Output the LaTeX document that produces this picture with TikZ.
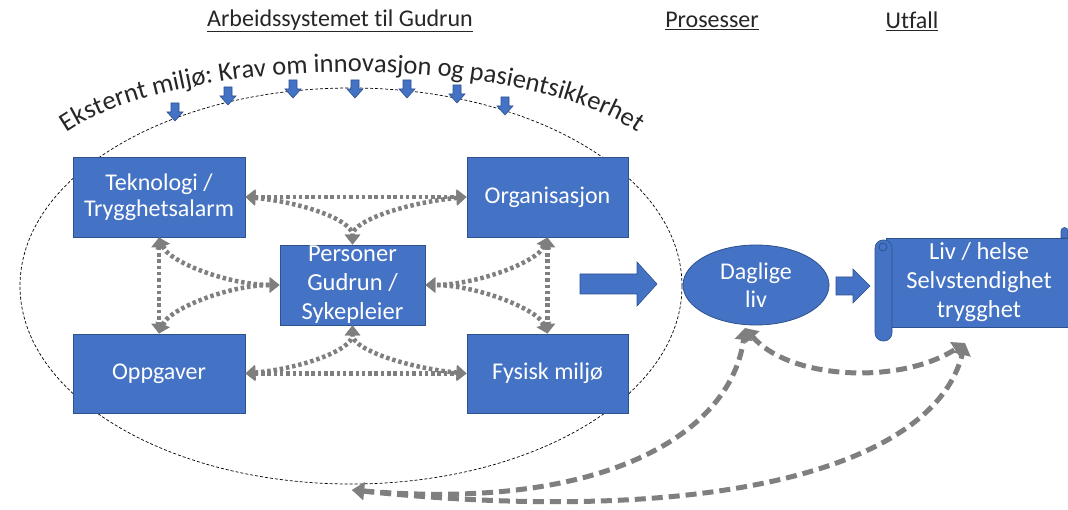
\documentclass[tikz,border=0pt]{standalone}
\usepackage{fontspec}
\setmainfont{Carlito}[Ligatures=NoCommon]
\usetikzlibrary{arrows.meta,decorations.text,shapes.geometric}
\definecolor{boxblue}{HTML}{4472C4}
\definecolor{boxedge}{HTML}{2F528F}
\definecolor{arrgray}{HTML}{7F7F7F}
\definecolor{txtdark}{HTML}{262626}
\begin{document}
\begin{tikzpicture}[x=1pt,y=-1pt,
  box/.style={fill=boxblue, draw=boxedge, line width=0.8pt, text=white, font=\fontsize{24}{26}\selectfont, align=center, inner sep=0pt},
  boxtxt/.style={text=white, font=\fontsize{24.5}{29}\selectfont, align=center, inner sep=0pt},
  header/.style={text=txtdark, font=\fontsize{24}{28}\selectfont, inner sep=0pt},
  dotarrow/.style={draw=arrgray, line width=4.5pt, dash pattern=on 3.5pt off 2.8pt,
     {Triangle[width=15pt,length=10pt]}-{Triangle[width=15pt,length=10pt]}},
  dasharrow/.style={draw=arrgray, line width=5pt, dash pattern=on 11pt off 6pt,
     {Triangle[width=17pt,length=12pt]}-{Triangle[width=17pt,length=12pt]}},
  bluearrow/.style={fill=boxblue, draw=boxedge, line width=0.6pt},
]
\useasboundingbox (0,0) rectangle (1068,510);
\fill[white] (0,0) rectangle (1068,510);

% headers
\node[header] (h1) at (340,21) {\underline{Arbeidssystemet til Gudrun}};
\node[header] (h2) at (712,21) {\underline{Prosesser}};
\node[header] (h3) at (912,21) {\underline{Utfall}};

% external environment ellipse
\draw[black, line width=0.7pt, dash pattern=on 3pt off 2pt] (351,286) ellipse [x radius=331pt, y radius=198pt];

% text along arc
\path[decorate, decoration={text along path, text align=center,
   text={|\fontsize{26.5}{27}\selectfont\color{txtdark}|Eksternt miljø: Krav om innovasjon og pasientsikkerhet}}]
  ([shift={(162:318pt and 108pt)}]352,180) arc[start angle=162, end angle=18, x radius=318pt, y radius=108pt];

% small down arrows
\foreach \ax/\ay in {175/103, 228/87, 293/80, 355/80, 407/80, 457/85, 505/97}{
  \draw[bluearrow] (\ax-4,\ay) -- (\ax+4,\ay) -- (\ax+4,\ay+9) -- (\ax+8,\ay+9) -- (\ax,\ay+18)
     -- (\ax-8,\ay+9) -- (\ax-4,\ay+9) -- cycle;
}

% boxes
\node[box, minimum width=172pt, minimum height=80pt] (tek) at (159,197) {Teknologi /\\Trygghetsalarm};
\node[box, minimum width=161pt, minimum height=80pt] (org) at (547.5,197) {Organisasjon};
\node[box, minimum width=145pt, minimum height=80pt] (pers) at (352.5,285) {};
\node[boxtxt] (perstxt) at (352.5,285) {Personer\\Gudrun /\\Sykepleier};
\node[box, minimum width=172pt, minimum height=79pt] (opp) at (159,373.5) {Oppgaver};
\node[box, minimum width=161pt, minimum height=79pt] (fys) at (547.5,373.5) {Fysisk miljø};

% dotted double arrows
\draw[dotarrow] (tek.east) -- (org.west);
\draw[dotarrow] (opp.east) -- (fys.west);
\draw[dotarrow] (tek.south) -- (opp.north);
\draw[dotarrow] (org.south) -- (fys.north);
\draw[dotarrow] (tek.east) .. controls +(55,5) and +(0,-25) .. (pers.north);
\draw[dotarrow] (org.west) .. controls +(-55,5) and +(0,-25) .. (pers.north);
\draw[dotarrow] (opp.east) .. controls +(55,-5) and +(0,25) .. (pers.south);
\draw[dotarrow] (fys.west) .. controls +(-55,-5) and +(0,25) .. (pers.south);
\draw[dotarrow] (tek.south) .. controls +(10,25) and +(-50,0) .. (pers.west);
\draw[dotarrow] (opp.north) .. controls +(10,-25) and +(-50,0) .. (pers.west);
\draw[dotarrow] (org.south) .. controls +(-10,25) and +(50,0) .. (pers.east);
\draw[dotarrow] (fys.north) .. controls +(-10,-25) and +(50,0) .. (pers.east);

% big arrow to processes
\draw[bluearrow] (580,274) -- (637,274) -- (637,262) -- (657,284) -- (637,306) -- (637,294) -- (580,294) -- cycle;

% Daglige liv
\node[ellipse, fill=boxblue, draw=boxedge, line width=0.8pt, minimum width=146pt, minimum height=80pt, inner sep=0pt,
      text=white, font=\fontsize{24}{28}\selectfont, align=center] (dag) at (756,285) {Daglige\\liv};

% small arrow
\draw[bluearrow] (836,277) -- (853,277) -- (853,269) -- (870,286) -- (853,303) -- (853,295) -- (836,295) -- cycle;

% scroll
\draw[bluearrow] (1061,238) -- (1061,231) arc[start angle=180, end angle=0, radius=3.5pt] -- (1068,238) -- cycle;
\draw[bluearrow] (886,238) -- (1068,238) -- (1068,327) -- (886,327) -- cycle;
\draw[bluearrow, rounded corners=8pt] (875,240) rectangle (892,341);
\draw[boxedge, line width=0.8pt] (883,247) circle[radius=4pt];
\node[boxtxt] (out) at (979,282) {Liv / helse\\Selvstendighet\\trygghet};

% dashed feedback arrows
\coordinate (base) at (352,490);
\coordinate (dagb) at (745,328);
\coordinate (outb) at (965,343);
\draw[dasharrow] (dagb) .. controls (790,380) and (900,385) .. (outb);
\draw[dasharrow] (base) .. controls (610,512) and (732,430) .. (dagb);
\draw[dasharrow] (base) .. controls (720,528) and (935,465) .. (outb);
\end{tikzpicture}
\end{document}
